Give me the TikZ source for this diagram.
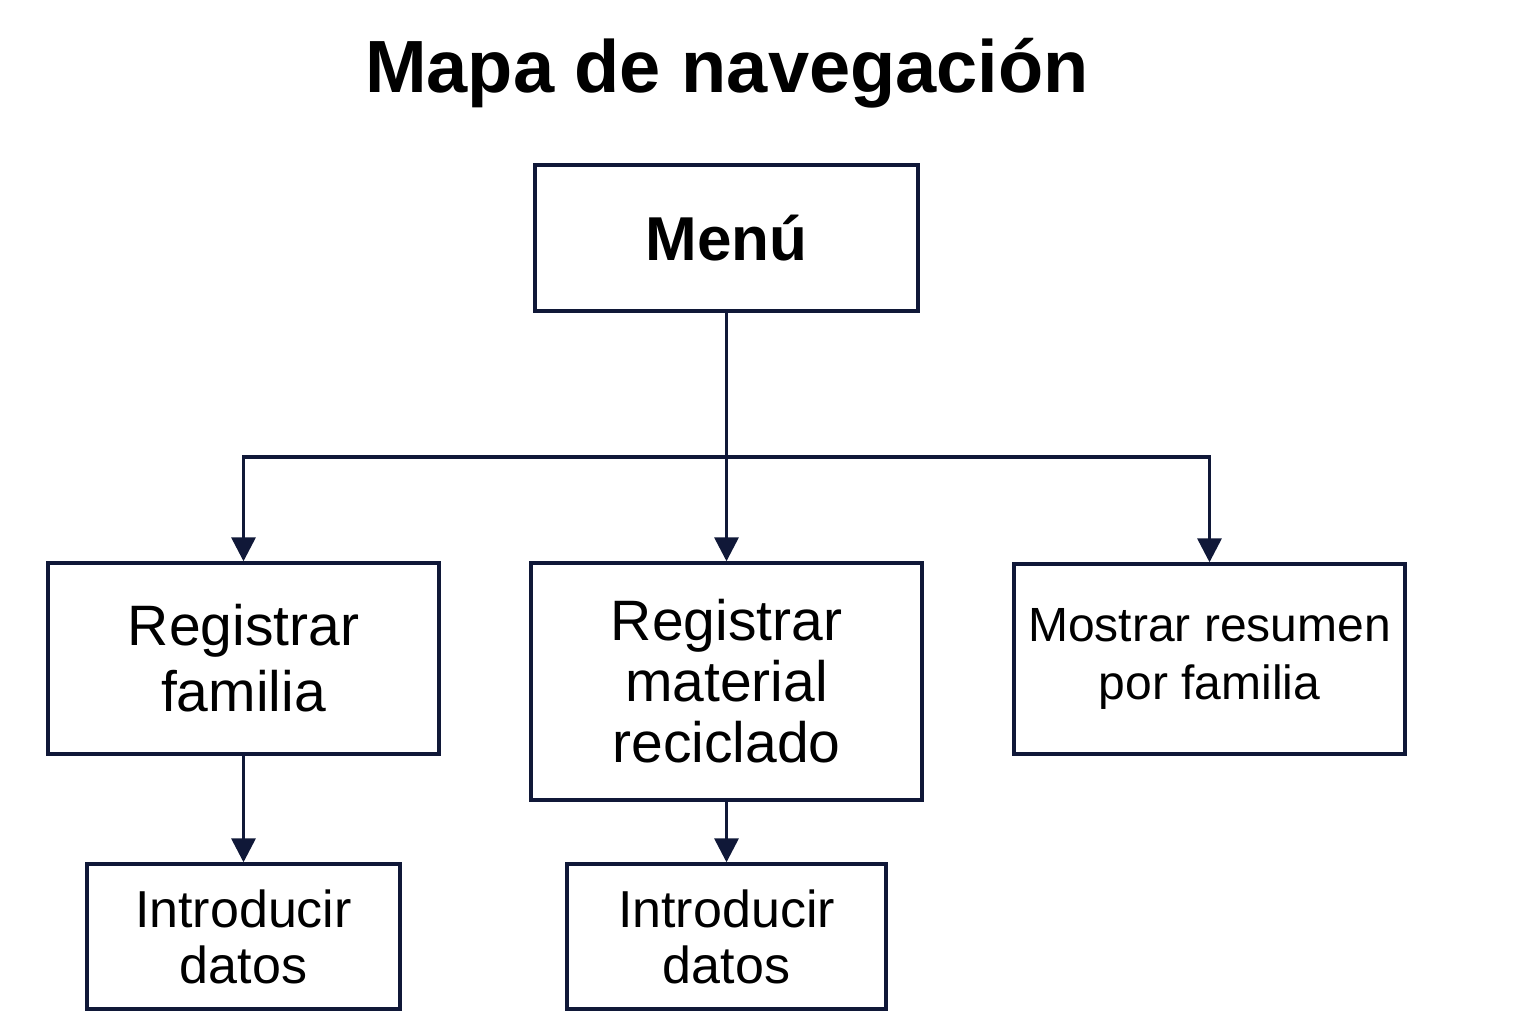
\documentclass[tikz,border=0pt]{standalone}
\usepackage{fontspec}
\setmainfont{Liberation Sans}
\usetikzlibrary{arrows.meta}
\definecolor{navy}{HTML}{101838}
\begin{document}
\begin{tikzpicture}[x=1pt,y=-1pt,
  box/.style={draw=navy,line width=3.4pt,inner sep=0pt,align=center,text=black},
  conn/.style={draw=navy,line width=3.4pt},
  arr/.style={conn,-{Triangle[width=24pt,length=24pt]}}]
\useasboundingbox (0,0) rectangle (1536,1024);
\node[font=\bfseries\fontsize{74}{80}\selectfont] (title) at (727,73) {Mapa de navegación};
\node[box,minimum width=383pt,minimum height=146pt,font=\bfseries\fontsize{62}{70}\selectfont] (menu) at (726.5,238) {Menú};
\node[box,minimum width=391pt,minimum height=191pt,font=\fontsize{57}{66}\selectfont] (rf) at (243.5,658.5) {Registrar\\familia};
\node[box,minimum width=391pt,minimum height=237pt,font=\fontsize{57}{61}\selectfont] (rm) at (726.5,681.5) {Registrar\\material\\reciclado};
\node[box,minimum width=391pt,minimum height=190pt,font=\fontsize{48}{58}\selectfont] (ms) at (1209.5,659) {Mostrar resumen\\por familia};
\node[box,minimum width=313pt,minimum height=145pt,font=\fontsize{52}{56}\selectfont] (id1) at (243.5,936.5) {Introducir\\datos};
\node[box,minimum width=319pt,minimum height=145pt,font=\fontsize{52}{56}\selectfont] (id2) at (726.5,936.5) {Introducir\\datos};
\coordinate (j) at (726.5,457);
\coordinate (jl) at (243.5,457);
\coordinate (jr) at (1209.5,457);
\draw[conn] (menu.south) -- (j);
\draw[conn,line cap=rect] (jl) -- (jr);
\draw[arr] (jl) -- (rf.north);
\draw[arr] (j) -- (rm.north);
\draw[arr] (jr) -- (ms.north);
\draw[arr] (rf.south) -- (id1.north);
\draw[arr] (rm.south) -- (id2.north);
\end{tikzpicture}
\end{document}
